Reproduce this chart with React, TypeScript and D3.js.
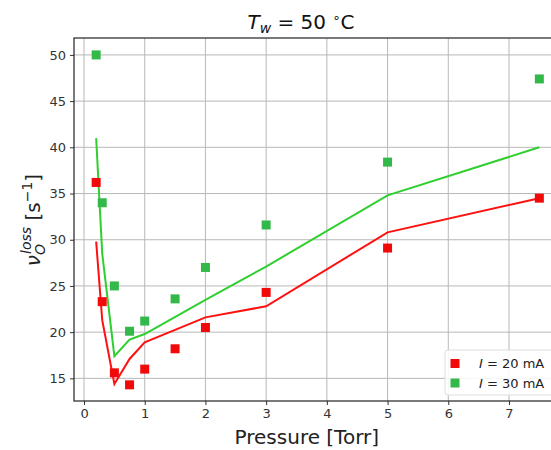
import React, { useEffect, useRef } from "react"
import * as d3 from "d3"

// measured points
const pressure = [0.2, 0.3, 0.5, 0.75, 1, 1.5, 2, 3, 5, 7.5]
const measured20 = [36.2, 23.3, 15.6, 14.3, 16.0, 18.2, 20.5, 24.3, 29.1, 34.5]
const measured30 = [50.0, 34.0, 25.0, 20.1, 21.2, 23.6, 27.0, 31.6, 38.4, 47.4]

// model curves
const modelPressure = [0.2, 0.3, 0.5, 0.75, 1, 2, 3, 5, 7.5]
const model20 = [29.8, 21.3, 14.4, 17.1, 18.9, 21.6, 22.8, 30.8, 34.5]
const model30 = [41.0, 28.5, 17.4, 19.2, 19.8, 23.5, 27.1, 34.8, 40.0]

const xTicks = [0, 1, 2, 3, 4, 5, 6, 7]
const yTicks = [15, 20, 25, 30, 35, 40, 45, 50]

const legendLabels = ["20 mA", "30 mA"]

const RED = "#ff1010"
const RED_MARK = "#f00a0a"
const GREEN = "#2fcf2f"
const GREEN_MARK = "#33b84a"

const WIDTH = 551
const HEIGHT = 450
const FONT = "DejaVu Sans"

const Chart = () => {
	const ref = useRef<SVGSVGElement>(null)

	useEffect(() => {
		const left = 74
		const top = 38
		const bottom = 401

		const x = d3.scaleLinear().domain([-0.165, 7.865]).range([left, 561.5])
		const y = d3.scaleLinear().domain([12.55, 51.83]).range([bottom, top])

		const svg = d3.select(ref.current)
		svg.selectAll("*").remove()

		svg
			.append("rect")
			.attr("width", WIDTH)
			.attr("height", HEIGHT)
			.attr("fill", "#fff")

		svg
			.append("defs")
			.append("clipPath")
			.attr("id", "plot-clip")
			.append("rect")
			.attr("x", left)
			.attr("y", top)
			.attr("width", 561.5 - left)
			.attr("height", bottom - top)

		// grid
		const grid = svg.append("g").attr("stroke", "#b8b8b8").attr("stroke-width", 1)
		grid
			.selectAll("line.gx")
			.data(xTicks)
			.join("line")
			.attr("class", "gx")
			.attr("x1", d => x(d))
			.attr("x2", d => x(d))
			.attr("y1", top)
			.attr("y2", bottom)
		grid
			.selectAll("line.gy")
			.data(yTicks)
			.join("line")
			.attr("class", "gy")
			.attr("x1", left)
			.attr("x2", 561.5)
			.attr("y1", d => y(d))
			.attr("y2", d => y(d))

		// axes
		const xAxis = d3.axisBottom(x).tickValues(xTicks).tickSize(4).tickPadding(4)
		svg
			.append("g")
			.attr("transform", `translate(0, ${bottom})`)
			.call(xAxis)
			.call(g => g.select(".domain").remove())
			.selectAll("text")
			.style("font-family", FONT)
			.style("font-size", "13px")
			.style("fill", "#333")

		const yAxis = d3.axisLeft(y).tickValues(yTicks).tickSize(4).tickPadding(4)
		svg
			.append("g")
			.attr("transform", `translate(${left}, 0)`)
			.call(yAxis)
			.call(g => g.select(".domain").remove())
			.selectAll("text")
			.style("font-family", FONT)
			.style("font-size", "13px")
			.style("fill", "#333")

		svg.selectAll(".tick line").attr("stroke", "#333")

		// lines
		const plot = svg.append("g").attr("clip-path", "url(#plot-clip)")
		const line = d3
			.line<number>()
			.x((_, i) => x(modelPressure[i]))
			.y(d => y(d))

		plot
			.append("path")
			.attr("d", line(model20))
			.attr("fill", "none")
			.attr("stroke", RED)
			.attr("stroke-width", 2)
		plot
			.append("path")
			.attr("d", line(model30))
			.attr("fill", "none")
			.attr("stroke", GREEN)
			.attr("stroke-width", 2)

		const s = 9
		const drawMarks = (vals: number[], color: string) => {
			plot
				.append("g")
				.selectAll("rect")
				.data(vals)
				.join("rect")
				.attr("x", (_, i) => x(pressure[i]) - s / 2)
				.attr("y", d => y(d) - s / 2)
				.attr("width", s)
				.attr("height", s)
				.attr("fill", color)
		}
		drawMarks(measured20, RED_MARK)
		drawMarks(measured30, GREEN_MARK)

		// frame
		svg
			.append("rect")
			.attr("x", left)
			.attr("y", top)
			.attr("width", 561.5 - left)
			.attr("height", bottom - top)
			.attr("fill", "none")
			.attr("stroke", "#222")
			.attr("stroke-width", 1.2)

		// legend
		const legend = svg.append("g")
		legend
			.append("rect")
			.attr("x", 445)
			.attr("y", 350)
			.attr("width", 110)
			.attr("height", 45)
			.attr("rx", 3)
			.attr("fill", "rgba(255,255,255,0.85)")
			.attr("stroke", "#dddddd")
		const colors = [RED_MARK, GREEN_MARK]
		legendLabels.forEach((lab, i) => {
			const cy = 363.5 + i * 19.5
			legend
				.append("rect")
				.attr("x", 455 - s / 2)
				.attr("y", cy - s / 2)
				.attr("width", s)
				.attr("height", s)
				.attr("fill", colors[i])
			const t = legend
				.append("text")
				.attr("x", 479)
				.attr("y", cy + 4.5)
				.style("font-family", FONT)
				.style("font-size", "13px")
				.style("fill", "#222")
			t.append("tspan").style("font-style", "italic").text("I")
			t.append("tspan").text(" = " + lab)
		})

		// title
		const title = svg
			.append("text")
			.attr("x", 301)
			.attr("y", 29)
			.attr("text-anchor", "middle")
			.style("font-family", FONT)
			.style("font-size", "20px")
			.style("fill", "#111")
		title.append("tspan").style("font-style", "italic").text("T")
		title
			.append("tspan")
			.style("font-style", "italic")
			.style("font-size", "14px")
			.attr("dy", 4)
			.text("w")
		title.append("tspan").attr("dy", -4).text(" = 50 ")
		title
			.append("tspan")
			.style("font-size", "13px")
			.attr("dy", -7)
			.text("∘")
		title.append("tspan").attr("dy", 7).text("C")

		// x label
		svg
			.append("text")
			.attr("x", x(3.67))
			.attr("y", 444)
			.attr("text-anchor", "middle")
			.style("font-family", FONT)
			.style("font-size", "20px")
			.style("fill", "#222")
			.text("Pressure [Torr]")

		// y label
		const yl = svg
			.append("text")
			.attr("transform", `translate(40, 220) rotate(-90)`)
			.attr("text-anchor", "middle")
			.style("font-family", FONT)
			.style("font-size", "20px")
			.style("fill", "#222")
		yl.append("tspan").style("font-style", "italic").text("ν")
		yl
			.append("tspan")
			.style("font-style", "italic")
			.style("font-size", "14px")
			.attr("dy", 5)
			.text("O")
		yl
			.append("tspan")
			.style("font-style", "italic")
			.style("font-size", "14px")
			.attr("dx", -10)
			.attr("dy", -14)
			.text("loss")
		yl.append("tspan").attr("dy", 9).text("  [s")
		yl
			.append("tspan")
			.style("font-size", "14px")
			.attr("dy", -8)
			.text("−1")
		yl.append("tspan").attr("dy", 8).text("]")
	}, [])

	return (
		<svg
			ref={ref}
			width={WIDTH}
			height={HEIGHT}
			style={{ position: "absolute", left: 0, top: 0 }}
		></svg>
	)
}

export default function App() {
	return <Chart />
}
